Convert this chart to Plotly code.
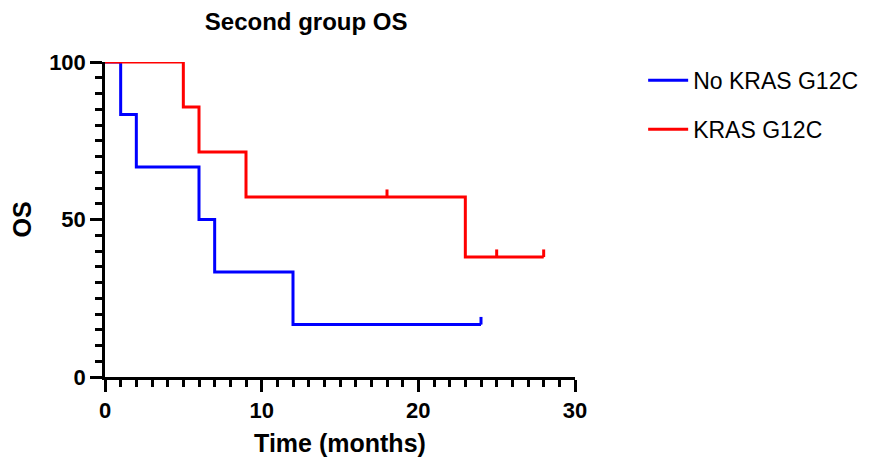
import plotly.graph_objects as go

# Kaplan-Meier steps
no_kras_time = [0, 1, 2, 6, 7, 12, 24]
no_kras_os = [100, 83.33, 66.67, 50, 33.33, 16.67, 16.67]
no_kras_censor_time = [24]
no_kras_censor_os = [16.67]

kras_time = [0, 5, 6, 9, 23, 28]
kras_os = [100, 85.71, 71.43, 57.14, 38.1, 38.1]
kras_censor_time = [18, 25, 28]
kras_censor_os = [57.14, 38.1, 38.1]

BLUE = "#0000ff"
RED = "#ff0000"
FONT = "Liberation Sans, Arial, sans-serif"

fig = go.Figure()


def add_group(name, t, s, ct, cs, color, group):
    fig.add_trace(go.Scatter(
        x=t, y=s, mode="lines", name=name, line=dict(color=color, width=3, shape="hv"),
        legendgroup=group,
    ))
    # censor ticks pointing upwards
    fig.add_trace(go.Scatter(
        x=ct, y=cs, mode="markers", marker=dict(size=1, color=color), showlegend=False,
        legendgroup=group,
        error_y=dict(type="data", symmetric=False, array=[2.4] * len(ct),
                     arrayminus=[0] * len(ct), width=0, thickness=3, color=color),
    ))


add_group("No KRAS G12C", no_kras_time, no_kras_os, no_kras_censor_time, no_kras_censor_os, BLUE, "a")
add_group("KRAS G12C", kras_time, kras_os, kras_censor_time, kras_censor_os, RED, "b")

axis_common = dict(
    showline=True, linecolor="black", linewidth=2.5, ticks="outside", ticklen=12,
    tickwidth=2.5, tickcolor="black", showgrid=False, zeroline=False,
    tickfont=dict(family=FONT, size=22, color="black", weight="bold"),
    title_font=dict(family=FONT, size=25, color="black", weight="bold"),
)

fig.update_xaxes(
    range=[0, 30], tickvals=[0, 10, 20, 30], title_text="Time (months)", title_standoff=13,
    minor=dict(dtick=1, ticks="outside", ticklen=7, tickwidth=2.5, tickcolor="black"),
    **axis_common,
)
fig.update_yaxes(
    range=[0, 100], tickvals=[0, 50, 100], title_text="OS", title_standoff=12,
    minor=dict(dtick=5, ticks="outside", ticklen=7, tickwidth=2.5, tickcolor="black"),
    **axis_common,
)

# the page has an 8px body margin, so the plot box is shifted back by 8px
fig.update_layout(
    width=881, height=457,
    margin=dict(l=97, r=314, t=54, b=88),
    plot_bgcolor="white", paper_bgcolor="white",
    title=dict(text="Second group OS", x=0.428, xref="paper", xanchor="center",
               y=1 - 14 / 457, yref="container", yanchor="middle",
               font=dict(family=FONT, size=24, color="black", weight="bold")),
    legend=dict(x=1.145, y=1.01, xanchor="left", yanchor="top", tracegroupgap=16,
                itemwidth=40,
                font=dict(family=FONT, size=23, color="black"), bgcolor="rgba(0,0,0,0)"),
    showlegend=True,
)

fig.write_html("out.html")
